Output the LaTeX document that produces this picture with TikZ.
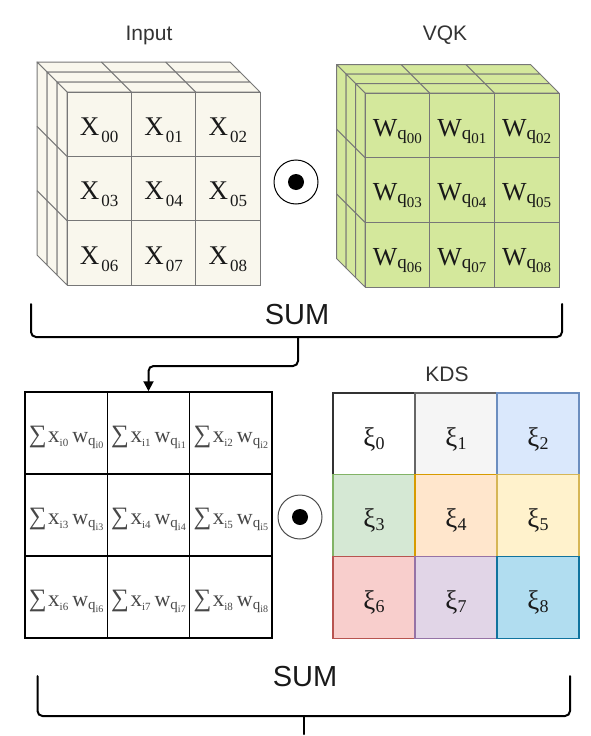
\documentclass[tikz,border=0pt]{standalone}
\usepackage{fontspec}
\setmainfont{Liberation Serif}
\newfontfamily\labfont{Liberation Sans}
\usetikzlibrary{arrows.meta}
\definecolor{inFill}{HTML}{F9F7ED}
\definecolor{inLine}{HTML}{777777}
\definecolor{vqFill}{HTML}{D4E89C}
\definecolor{vqLine}{HTML}{777777}
\definecolor{kf0}{HTML}{FFFFFF}\definecolor{kd0}{HTML}{333333}
\definecolor{kf1}{HTML}{F5F5F5}\definecolor{kd1}{HTML}{666666}
\definecolor{kf2}{HTML}{DAE8FC}\definecolor{kd2}{HTML}{6C8EBF}
\definecolor{kf3}{HTML}{D5E8D4}\definecolor{kd3}{HTML}{82B366}
\definecolor{kf4}{HTML}{FFE6CC}\definecolor{kd4}{HTML}{D79B00}
\definecolor{kf5}{HTML}{FFF2CC}\definecolor{kd5}{HTML}{D6B656}
\definecolor{kf6}{HTML}{F8CECC}\definecolor{kd6}{HTML}{B85450}
\definecolor{kf7}{HTML}{E1D5E7}\definecolor{kd7}{HTML}{9673A6}
\definecolor{kf8}{HTML}{B1DDF0}\definecolor{kd8}{HTML}{10739E}
\newcommand{\lowr}[3]{\raisebox{-#1pt}{\fontsize{#2}{#2}\selectfont #3}}
% cube: #1 ox, #2 oy, #3 size, #4 depth step, #5 fill, #6 line
\newcommand{\drawcube}[6]{%
  \foreach \k in {2,1,0}{%
    \pgfmathsetmacro\fx{#1-#4*\k}%
    \pgfmathsetmacro\fy{#2-#4*\k}%
    \filldraw[fill=#5,draw=#6,line width=1pt,line join=round] (\fx,\fy) -- ++(#3,0) -- ++(-#4,-#4) -- ++(-#3,0) -- cycle;
    \foreach \i in {1,2}{\draw[#6,line width=1pt] (\fx+\i*#3/3,\fy) -- ++(-#4,-#4);}
    \filldraw[fill=#5,draw=#6,line width=1pt,line join=round] (\fx,\fy) -- ++(0,#3) -- ++(-#4,-#4) -- ++(0,-#3) -- cycle;
    \foreach \i in {1,2}{\draw[#6,line width=1pt] (\fx,\fy+\i*#3/3) -- ++(-#4,-#4);}
    \filldraw[fill=#5,draw=#6,line width=1pt] (\fx,\fy) rectangle ++(#3,#3);
    \foreach \i in {1,2}{\draw[#6,line width=1pt] (\fx+\i*#3/3,\fy) -- ++(0,#3);
                         \draw[#6,line width=1pt] (\fx,\fy+\i*#3/3) -- ++(#3,0);}
  }}
\begin{document}
\begin{tikzpicture}[x=1pt,y=-1pt,
  lab/.style={font=\labfont\fontsize{21}{21}\selectfont, text=black!80, inner sep=0},
  sumlab/.style={font=\labfont\fontsize{29}{29}\selectfont, text=black!90, inner sep=0},
  celltxt/.style={inner sep=0, text=black!90},
  sumtxt/.style={inner sep=0, text=black!72},
  sumcell/.style={draw=black, line width=1.5pt, minimum width=82.33pt, minimum height=82pt, inner sep=0},
  kdcell/.style={line width=1.3pt, minimum width=82pt, minimum height=82pt, inner sep=0},
  brace/.style={line width=2pt, rounded corners=5pt, line cap=round},
  odot/.style={circle, draw, line width=1pt, minimum size=44pt, inner sep=0},
  odotc/.style={circle, fill=black, minimum size=16pt, inner sep=0}]
\useasboundingbox (0,0) rectangle (590,736);
% labels
\node[lab] (linput) at (149,35) {Input};
\node[lab] (lvqk) at (445,35) {VQK};
\node[lab] (lkds) at (447,374) {KDS};
% cubes
\drawcube{67}{92}{193}{10}{inFill}{inLine}
\drawcube{365}{93}{194}{9.5}{vqFill}{vqLine}
\foreach \r in {0,1,2}{\foreach \c in {0,1,2}{%
  \pgfmathtruncatemacro\n{3*\r+\c}%
  \node[celltxt] (x\n) at (67+32.2+\c*64.33, 92+32.2+\r*64.33+6)
    {\fontsize{27}{27}\selectfont X\kern2pt\lowr{7}{17}{0\n}};
  \node[celltxt] (w\n) at (365+32.3+\c*64.67, 93+32.3+\r*64.67+6)
    {\fontsize{26}{26}\selectfont W\lowr{3}{19}{q\lowr{4}{15}{0\n}}};
}}
% odot top
\node[odot] (od1) at (296,182) {};
\node[odotc] (od1c) at (od1.center) {};
% sum grid
\foreach \r in {0,1,2}{\foreach \c in {0,1,2}{%
  \pgfmathtruncatemacro\n{3*\r+\c}%
  \node[sumcell] (s\n) at (25+41.17+\c*82.33, 392+41+\r*82) {};
  \node[sumtxt] (t\n) at ([yshift=-4pt]s\n.center)
    {\fontsize{25}{25}\selectfont ∑\kern1.5pt{\fontsize{23}{23}\selectfont x}\lowr{4}{11}{i\n}\kern4pt{\fontsize{22}{22}\selectfont w}\lowr{3}{15}{q\lowr{3}{10}{i\n}}};
}}
% KDS grid
\foreach \n/\c/\r in {0/0/0,1/1/0,2/2/0,3/0/1,4/1/1,5/2/1,6/0/2,7/1/2,8/2/2}{%
  \node[kdcell, fill=kf\n, draw=kd\n] (k\n) at (333+41+\c*82, 393+41+\r*81.67) {};
  \node[celltxt] (kt\n) at ([yshift=-5pt]k\n.center)
    {\fontsize{27}{27}\selectfont ξ\lowr{3}{18}{\n}};
}
% odot bottom
\node[odot, draw=black!70] (od2) at (300,517) {};
\node[odotc] (od2c) at (od2.center) {};
% top brace
\node[sumlab] (sum1) at (297,315) {SUM};
\coordinate (b1a) at (31,304);
\coordinate (b1b) at (31,337);
\coordinate (b1c) at (562,337);
\coordinate (b1d) at (562,304);
\coordinate (b1m) at (298,337);
\draw[brace] (b1a) -- (b1b) -- (b1c) -- (b1d);
\draw[brace, -{Triangle[length=10pt,width=10pt]}] (b1m) -- ++(0,29) -| (s1.north);
% bottom brace
\node[sumlab] (sum2) at (305,677) {SUM};
\coordinate (b2a) at (37.5,676);
\coordinate (b2b) at (37.5,716);
\coordinate (b2c) at (570,716);
\coordinate (b2d) at (570,676);
\coordinate (b2m) at (304,716);
\coordinate (b2e) at (304,734);
\draw[brace] (b2a) -- (b2b) -- (b2c) -- (b2d);
\draw[brace] (b2m) -- (b2e);
\end{tikzpicture}
\end{document}
